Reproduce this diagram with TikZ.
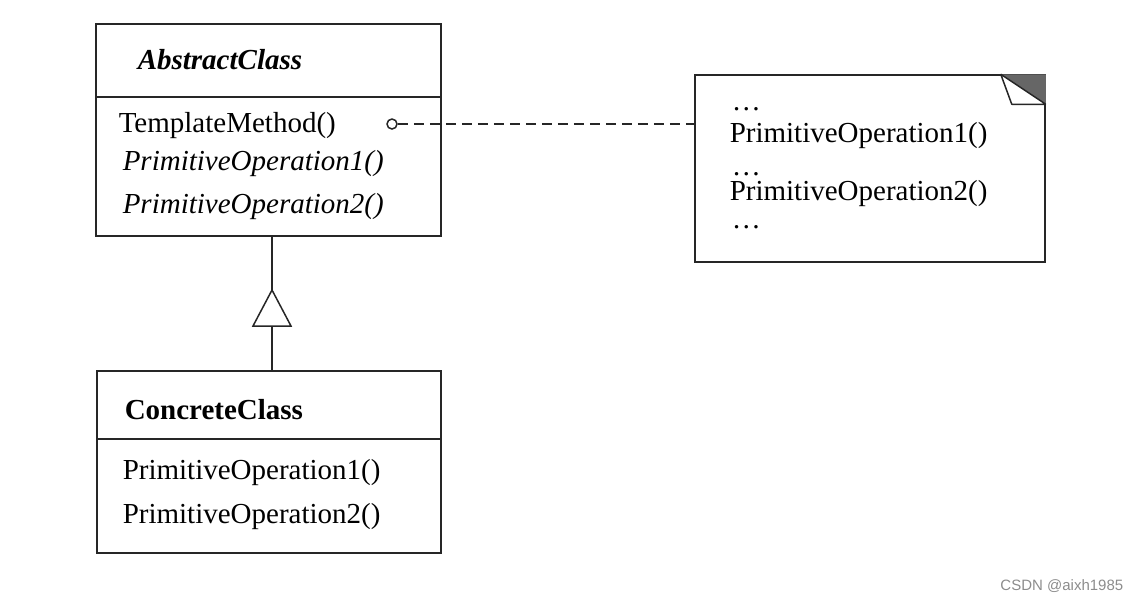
\documentclass[tikz,border=0pt]{standalone}
\usepackage{fontspec}
\setmainfont{Liberation Serif}
\setsansfont{Liberation Sans}
\usetikzlibrary{positioning}

\begin{document}
\begin{tikzpicture}[x=0.5pt,y=-0.5pt,line width=0.75pt,
    class box/.style={draw=black!85,rectangle,inner sep=0pt},
    member/.style={anchor=west,inner sep=0pt,font=\fontsize{14.5}{17}\selectfont},
    dots/.style={anchor=base west,inner sep=0pt,text height=3pt,text depth=0pt,font=\fontsize{14.5}{17}\selectfont},
    note box/.style={draw=black!85,rectangle,inner sep=0pt,minimum width=175pt,minimum height=93.5pt}]
            \useasboundingbox (0,0) rectangle (1138,602);

            % classes
            \node[class box, minimum width=172.5pt, minimum height=106pt] (abstract) at (268.5,130) {};
            \node[class box, minimum width=172pt, minimum height=91pt] (concrete) at (269,462) {};
            \node[note box] (note) at (870,168.5) {};

            \draw[black!85] (abstract.west |- 0,97) -- (abstract.east |- 0,97);
            \draw[black!85] (concrete.west |- 0,439) -- (concrete.east |- 0,439);

            \node[member] (abstitle) at (137,60) {\bfseries\itshape AbstractClass};
            \node[member] (tmethod) at (118,126) {TemplateMethod()};
            \node[member] (absop1) at (122,164) {\itshape PrimitiveOperation1()};
            \node[member] (absop2) at (122,207) {\itshape PrimitiveOperation2()};

            \node[member] (conctitle) at (124,410) {\bfseries ConcreteClass};
            \node[member] (concop1) at (122,473) {PrimitiveOperation1()};
            \node[member] (concop2) at (122,517) {PrimitiveOperation2()};

            % note text
            \node[dots] (dots1) at (731,110) {…};
            \node[member] (noteop1) at (729,136) {PrimitiveOperation1()};
            \node[dots] (dots2) at (731,175) {…};
            \node[member] (noteop2) at (729,194) {PrimitiveOperation2()};
            \node[dots] (dots3) at (731,228) {…};

            % folded corner
            \fill[black!60] (note.north east) ++(-45,0) -- (note.north east) -- ++(0,30) -- cycle;
            \draw[black!85,fill=white,line join=bevel] (note.north east) ++(-45,0) -- ++(11,30) -- ++(34,0) -- cycle;

            % note link
            \node[circle, draw=black!85, minimum size=5pt, inner sep=0pt] (anchor) at (392,124) {};
            \draw[black!85, dash pattern=on 5pt off 3pt] (anchor.east) -- (anchor.east -| note.west);

            % inheritance
            \coordinate (apex) at (272,290);
            \coordinate (base) at (272,326);
            \draw[black!85] (abstract.south -| apex) -- (apex);
            \draw[black!85] (apex) -- ++(-19,36) -- ++(38,0) -- cycle;
            \draw[black!85] (base) -- (concrete.north -| base);

            \node[anchor=east, inner sep=0pt, text=black!45, font=\sffamily\fontsize{7.5}{9}\selectfont] (mark) at (1124,586) {CSDN @aixh1985};
        \end{tikzpicture}
\end{document}
